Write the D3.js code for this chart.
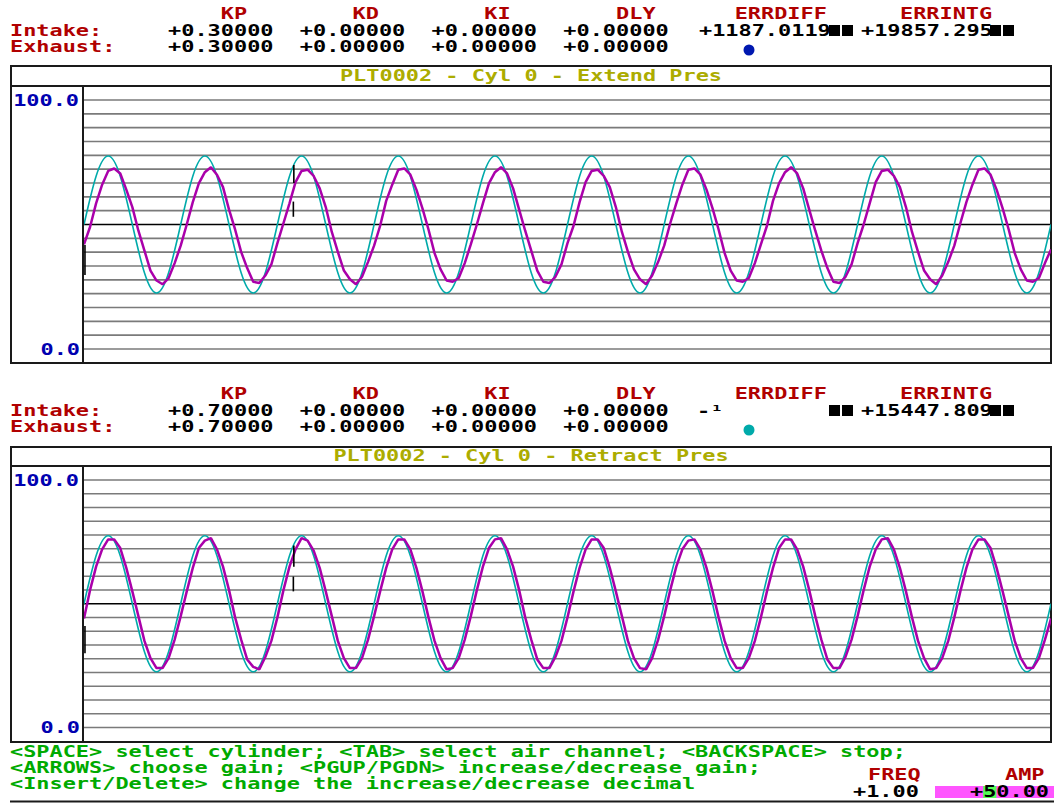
<!DOCTYPE html>
<html>
<head>
<meta charset="utf-8">
<script src="https://cdn.jsdelivr.net/npm/d3@7"></script>
<style>
  html, body { margin: 0; padding: 0; background: #fff; }
  svg { display: block; }
  text { font-family: "DejaVu Sans Mono", "Liberation Mono", monospace; font-weight: bold; font-size: 15px; white-space: pre; }
</style>
</head>
<body>
<svg id="chart" width="1054" height="803"></svg>
<script>
// ---------------- DATA ----------------
const gainHeaders = ["KP", "KD", "KI", "DLY"];
const errHeaders = ["ERRDIFF", "ERRINTG"];
const rowLabels = ["Intake:", "Exhaust:"];

const extendIntakeGains  = ["+0.30000", "+0.00000", "+0.00000", "+0.00000"];
const extendExhaustGains = ["+0.30000", "+0.00000", "+0.00000", "+0.00000"];
const extendErrDiff = "+1187.0119";
const extendErrIntg = "+19857.295";

const retractIntakeGains  = ["+0.70000", "+0.00000", "+0.00000", "+0.00000"];
const retractExhaustGains = ["+0.70000", "+0.00000", "+0.00000", "+0.00000"];
const retractErrDiff = "-\u00b9";
const retractErrIntg = "+15447.809";

const panelTitles = ["PLT0002 - Cyl 0 - Extend Pres", "PLT0002 - Cyl 0 - Retract Pres"];
const yTickLabels = ["100.0", "0.0"];
const gridCount = 18;           // horizontal divisions of the 0..100 scale
const timeSpan = 10;            // seconds shown (10 cycles at 1 Hz)
const cmdStep = 0.125;          // sample spacing of the command trace (s)
const fbStep = 0.0625;          // sample spacing of the feedback traces (s)

// command (cyan) – same setpoint wave in both panels
const commandValues = [
  50, 69.4, 77.5, 69.4, 50, 30.6, 22.5, 30.6,
  50, 69.4, 77.5, 69.4, 50, 30.6, 22.5, 30.6,
  50, 69.4, 77.5, 69.4, 50, 30.6, 22.5, 30.6,
  50, 69.4, 77.5, 69.4, 50, 30.6, 22.5, 30.6,
  50, 69.4, 77.5, 69.4, 50, 30.6, 22.5, 30.6,
  50, 69.4, 77.5, 69.4, 50, 30.6, 22.5, 30.6,
  50, 69.4, 77.5, 69.4, 50, 30.6, 22.5, 30.6,
  50, 69.4, 77.5, 69.4, 50, 30.6, 22.5, 30.6,
  50, 69.4, 77.5, 69.4, 50, 30.6, 22.5, 30.6,
  50, 69.4, 77.5, 69.4, 50, 30.6, 22.5, 30.6,
  50
];

// feedback (magenta) – extend pressure
const extendFeedback = [
  42, 49, 58.5, 66, 71.5, 72.5, 70.5, 64, 57, 47.5, 39.5, 31.5, 27.5, 26, 28.5, 34.5,
  41.5, 50, 59, 66.5, 71, 73, 70, 65, 56, 48, 39, 32.5, 27, 26.5, 29.5, 34,
  42.5, 50.5, 58.5, 67, 71.5, 72, 69.5, 64.5, 57, 47, 39, 31.5, 28, 26, 29, 35,
  41.5, 49.5, 59.5, 66, 72, 72.5, 70, 64, 56.5, 48, 38.5, 32, 27.5, 27, 28.5, 34.5,
  42, 50, 58.5, 66.5, 71, 73, 70.5, 64.5, 56, 47.5, 39.5, 31.5, 27, 26.5, 29, 34,
  42.5, 49.5, 59, 67, 71.5, 72, 69.5, 65, 57, 47, 39, 32, 28, 26, 29.5, 35,
  41.5, 50.5, 58.5, 66, 72, 72.5, 70, 64, 56.5, 48, 38.5, 31.5, 27.5, 27, 28.5, 34.5,
  42, 49.5, 59.5, 66.5, 71, 73, 70.5, 64.5, 56, 47.5, 39.5, 32.5, 27, 26.5, 29, 34,
  42.5, 50, 58.5, 67, 71.5, 72, 69.5, 65, 57, 47, 39, 31.5, 28, 26, 29.5, 35,
  41.5, 50.5, 59, 66, 72, 72.5, 70, 64, 56.5, 48, 38.5, 32, 27.5, 27, 28.5, 34.5,
  40
];

// feedback (magenta) – retract pressure
const retractFeedback = [
  44, 55.5, 65, 72, 76, 76, 72.5, 64.5, 55, 45, 35, 28, 24, 24, 28, 35.5,
  45, 55, 64.5, 72.5, 75.5, 76.5, 72, 65, 55.5, 44.5, 35.5, 27.5, 24.5, 23.5, 28.5, 35,
  44.5, 55.5, 65, 72, 76.5, 75.5, 71.5, 64.5, 55, 45, 35, 28, 24, 24, 28, 35.5,
  45, 55, 64.5, 72, 76, 76, 72, 64.5, 55, 44.5, 35, 28, 23.5, 24, 28, 35.5,
  45, 55.5, 65, 72.5, 76, 76.5, 72, 65, 55.5, 44.5, 35.5, 27.5, 24, 24, 28.5, 35,
  44.5, 55, 64.5, 72, 76, 76, 72.5, 64.5, 55, 45, 35, 28, 24, 23.5, 28, 35.5,
  45, 55.5, 65, 72, 75.5, 76, 72, 64.5, 55, 44.5, 35, 28, 24, 24, 28, 35,
  44.5, 55, 64.5, 72.5, 76, 76, 72, 65, 55.5, 45, 35.5, 27.5, 24, 24, 28.5, 35.5,
  45, 55.5, 65, 72, 76, 76.5, 72, 64.5, 55, 44.5, 35, 28, 23.5, 24, 28, 35,
  44.5, 55, 64.5, 72, 76, 76, 72.5, 64.5, 55, 45, 35, 28, 24, 24, 28, 35.5,
  44
];

// black glitch marks on the traces [time s, low value, high value]
const extendGlitches  = [[0.01, 29.7, 41.8], [2.17, 66.7, 73.9], [2.165, 53.1, 59.2]];
const retractGlitches = [[0.01, 30, 41], [2.17, 65, 73.5], [2.165, 55, 61]];

const helpLines = [
  "<SPACE> select cylinder; <TAB> select air channel; <BACKSPACE> stop;",
  "<ARROWS> choose gain; <PGUP/PGDN> increase/decrease gain;",
  "<Insert/Delete> change the increase/decrease decimal"
];
const freqLabel = "FREQ", freqValue = "+1.00";
const ampLabel = "AMP", ampValue = "+50.00";

// ---------------- DRAWING ----------------
const svg = d3.select("#chart");
const CW = 13.175;                       // character cell width
const col = c => 10 + c * CW;
const RED = "#b00000", BLUE = "#0000b0", OLIVE = "#acac00", GREEN = "#00aa00";
const CYAN = "#00aaaa", MAGENTA = "#aa00aa";

function txt(s, x, y, color, size) {
  const t = svg.append("text")
    .attr("x", x).attr("y", y)
    .attr("fill", color)
    .attr("textLength", s.length * CW)
    .attr("lengthAdjust", "spacingAndGlyphs")
    .text(s);
  if (size) t.style("font-size", size + "px");
  return t;
}
function blocks(x, y) {
  svg.append("rect").attr("x", x).attr("y", y - 11).attr("width", 11).attr("height", 11).attr("fill", "#000");
  svg.append("rect").attr("x", x + 13).attr("y", y - 11).attr("width", 11).attr("height", 11).attr("fill", "#000");
}

function header(oy, intake, exhaust, errDiff, errIntg, dotColor) {
  const gainCols = [16, 26, 36, 46];
  gainHeaders.forEach((h, i) => txt(h, col(gainCols[i]), oy + 19, RED));
  txt(errHeaders[0], col(55), oy + 19, RED);
  txt(errHeaders[1], 900, oy + 19, RED);
  txt(rowLabels[0], col(0), oy + 36, RED);
  txt(rowLabels[1], col(0), oy + 52, RED);
  const valCols = [12, 22, 32, 42];
  intake.forEach((v, i) => txt(v, col(valCols[i]), oy + 36, "#000"));
  exhaust.forEach((v, i) => txt(v, col(valCols[i]), oy + 52, "#000"));
  txt(errDiff, errDiff.length > 3 ? 699 : 697, oy + 36, "#000");
  blocks(829, oy + 36);
  txt(errIntg, 861, oy + 36, "#000");
  blocks(990, oy + 36);
  svg.append("circle").attr("cx", 749).attr("cy", oy + 50).attr("r", 5.5).attr("fill", dotColor);
}

function panel(p) {
  const x = d3.scaleLinear().domain([0, timeSpan]).range([84, 1051]);
  const y = d3.scaleLinear().domain([0, 100]).range([p.y0, p.y100]);
  const clipId = "clip" + p.idx;
  svg.append("clipPath").attr("id", clipId).append("rect")
    .attr("x", 84).attr("y", p.bandBottom + 1).attr("width", 967).attr("height", p.bottom - p.bandBottom - 2);

  const grid = d3.range(gridCount + 1).map(i => i * 100 / gridCount);
  svg.append("g").selectAll("line").data(grid).join("line")
    .attr("x1", 83).attr("x2", 1051)
    .attr("y1", d => y(d)).attr("y2", d => y(d))
    .attr("stroke", d => Math.abs(d - 50) < 0.01 ? "#000" : "#7a7a7a")
    .attr("stroke-width", 1.6);

  // frame
  svg.append("rect").attr("x", 11).attr("y", p.top).attr("width", 1040).attr("height", p.bottom - p.top)
    .attr("fill", "none").attr("stroke", "#1a1a1a").attr("stroke-width", 2);
  svg.append("line").attr("x1", 11).attr("x2", 1051).attr("y1", p.bandBottom).attr("y2", p.bandBottom)
    .attr("stroke", "#1a1a1a").attr("stroke-width", 2);
  svg.append("line").attr("x1", 83).attr("x2", 83).attr("y1", p.bandBottom).attr("y2", p.bottom)
    .attr("stroke", "#1a1a1a").attr("stroke-width", 2);

  // title
  txt(p.title, 531 - p.title.length * CW / 2, p.bandBottom - 5, OLIVE);

  // y labels
  txt(yTickLabels[0], 79 - yTickLabels[0].length * CW, y(100) + 5.5, BLUE);
  txt(yTickLabels[1], 80 - yTickLabels[1].length * CW, y(0) + 5.5, BLUE);

  const g = svg.append("g").attr("clip-path", `url(#${clipId})`);
  const cmdLine = d3.line().x((d, i) => x(i * cmdStep)).y(d => y(d)).curve(d3.curveNatural);
  g.append("path").datum(commandValues).attr("d", cmdLine)
    .attr("fill", "none").attr("stroke", CYAN).attr("stroke-width", 1.6);
  const fbLine = d3.line().x((d, i) => x(i * fbStep)).y(d => y(d));
  g.append("path").datum(p.feedback).attr("d", fbLine)
    .attr("fill", "none").attr("stroke", MAGENTA).attr("stroke-width", 2.5).attr("stroke-linejoin", "bevel");
  g.selectAll("line.gl").data(p.glitches).join("line")
    .attr("x1", d => x(d[0])).attr("x2", d => x(d[0]))
    .attr("y1", d => y(d[1])).attr("y2", d => y(d[2]))
    .attr("stroke", "#000").attr("stroke-width", 1.6);
}

header(0, extendIntakeGains, extendExhaustGains, extendErrDiff, extendErrIntg, "#0018b0");
panel({ idx: 1, top: 66, bandBottom: 86, bottom: 363, y100: 100, y0: 349,
        title: panelTitles[0], feedback: extendFeedback, glitches: extendGlitches });
header(380, retractIntakeGains, retractExhaustGains, retractErrDiff, retractErrIntg, "#00aaaa");
panel({ idx: 2, top: 447, bandBottom: 466, bottom: 742, y100: 480, y0: 727.5,
        title: panelTitles[1], feedback: retractFeedback, glitches: retractGlitches });

// help text
helpLines.forEach((s, i) => txt(s, col(0), 757 + i * 16, GREEN));

// freq / amp
txt(freqLabel, 868, 780, RED);
txt(ampLabel, 1005, 780, RED);
txt(freqValue, 853, 797, "#000");
svg.append("rect").attr("x", 935).attr("y", 786).attr("width", 119).attr("height", 12).attr("fill", "#ff55ff");
svg.append("rect").attr("x", 970 + CW).attr("y", 786).attr("width", CW).attr("height", 12).attr("fill", "#55ff55");
txt(ampValue, 970, 797, "#000");
svg.append("line").attr("x1", 10).attr("x2", 1054).attr("y1", 801.5).attr("y2", 801.5)
  .attr("stroke", "#1a1a1a").attr("stroke-width", 2);
</script>
</body>
</html>
